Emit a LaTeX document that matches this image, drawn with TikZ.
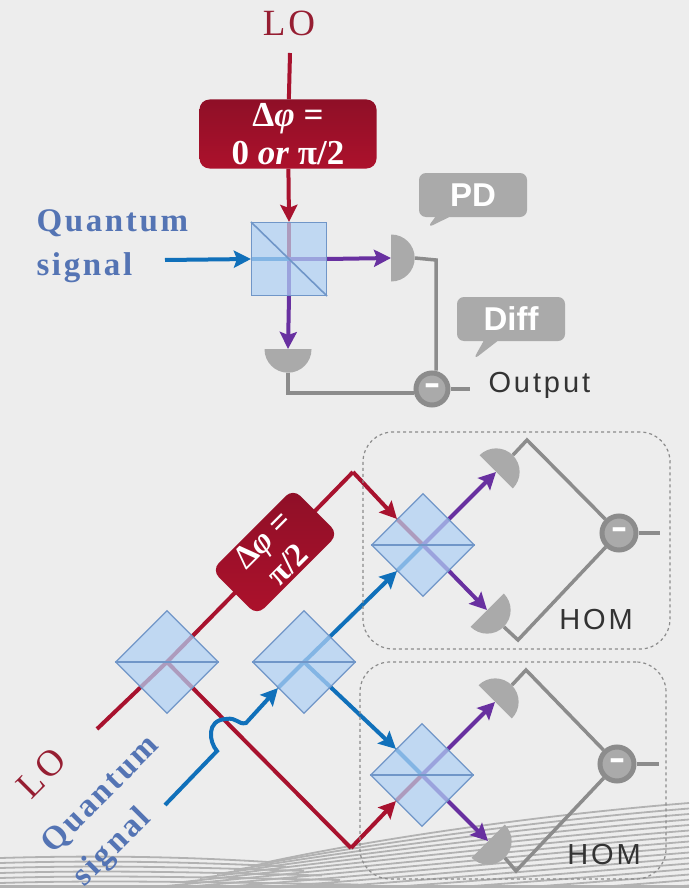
\documentclass[tikz,border=0pt]{standalone}
\usepackage{fontspec}
\usepackage{tikz}
\usetikzlibrary{arrows.meta, shapes.geometric, shapes.callouts}
\setmainfont{Liberation Serif}
\newfontfamily\sansfont{Liberation Sans}
\newfontfamily\spacedsans[LetterSpace=10]{Liberation Sans}
\newfontfamily\widefont[LetterSpace=8]{Liberation Serif}
\newfontfamily\minusfont{DejaVu Sans}

\definecolor{bgcol}{RGB}{237,237,237}
\definecolor{wavecol}{RGB}{178,178,178}
\definecolor{lored}{RGB}{168,18,46}
\definecolor{sigblue}{RGB}{16,112,186}
\definecolor{outpurple}{RGB}{104,48,160}
\definecolor{pdgray}{RGB}{170,170,170}
\definecolor{linegray}{RGB}{140,140,140}
\definecolor{cubefill}{RGB}{176,208,245}
\definecolor{cubeedge}{RGB}{112,150,200}
\definecolor{textblue}{RGB}{84,116,180}
\definecolor{textred}{RGB}{150,30,50}

\pgfdeclarelayer{waves}
\pgfdeclarelayer{beams}
\pgfsetlayers{waves,beams,main}

\tikzset{
    beam/.style={line width=4pt},
    tip/.style={-{Stealth[length=17pt,width=17pt,inset=3pt]}},
    cube/.style={draw=cubeedge, fill=cubefill, fill opacity=0.72, line width=1.2pt, inner sep=0pt},
    cubed/.style={cube, diamond, aspect=1, minimum size=103pt},
    phase/.style={rectangle, rounded corners=10pt, top color=lored!85!black, bottom color=lored!95!red,
        text=white, align=center, inner sep=0pt},
    pd/.style={semicircle, fill=pdgray, minimum width=47pt, minimum height=23.5pt, inner sep=0pt, anchor=chord center},
    wire/.style={draw=linegray, line width=3.5pt, line join=miter},
    diffc/.style={circle, draw=linegray, fill=pdgray, line width=5pt, minimum size=32pt, inner sep=0pt,
        text=white, font=\minusfont\bfseries\fontsize{32}{32}\selectfont},
    tag/.style={rectangle callout, rounded corners=7pt, fill=pdgray, text=white, minimum width=108pt,
        minimum height=44pt, callout pointer width=14pt, font=\sansfont\bfseries\fontsize{33}{33}\selectfont},
    hombox/.style={rectangle, rounded corners=30pt, draw=linegray, dashed, line width=1.2pt, inner sep=0pt},
    sanstext/.style={font=\spacedsans\fontsize{29}{29}\selectfont, text=black!80},
    sigtext/.style={text=textblue, font=\widefont\bfseries\fontsize{33}{44}\selectfont},
    lotext/.style={text=textred, font=\widefont\fontsize{37}{37}\selectfont}
}

\begin{document}
\begin{tikzpicture}[x=1pt, y=-1pt]
    \useasboundingbox (0,0) rectangle (689,888);

    % Background stripes
    \begin{pgfonlayer}{waves}
        \fill[bgcol] (0,0) rectangle (689,888);
        \foreach \i in {0,...,5}
            \draw[wavecol, line width=1.8pt] (0,858+5*\i) .. controls (100,855+5*\i) and (190,857+5*\i) .. (268+18*\i,862+4.5*\i);
        \foreach \i in {0,...,15}
            \draw[wavecol, line width=1.8pt] (268-17*\i,862+4*\i) .. controls (380-10*\i,838+5.5*\i) and (540,815+5.5*\i) .. (689,803+5.5*\i);
        \fill[wavecol] (0,885) rectangle (689,888);
    \end{pgfonlayer}

    % Homodyne detection
    \node[lotext] (loTopText) at (289,23) {LO};
    \node[sigtext, align=left, anchor=west] (sigTopText) at (33,246) {Quantum\\signal};
    \node[phase, minimum width=177pt, minimum height=69pt, font=\fontsize{35}{38}\selectfont\bfseries] (phaseTop) at (288,134) {Δ\textit{φ} =\\0 \textit{or} π/2};
    \node[cube, rectangle, minimum width=75pt, minimum height=73pt] (cubeTop) at (289,259) {};
    \draw[cubeedge, line width=1.6pt] (cubeTop.north west) -- (cubeTop.south east);
    \node[pd, rotate=-90] (pdRight) at (391,258) {};
    \node[pd, rotate=180] (pdDown) at (288,349) {};
    \node[diffc] (diffTop) at (432,389) {–};
    \node[sanstext, anchor=west] (outText) at (485,385) {Output};
    \node[tag, callout absolute pointer={(427,228)}] (pdTag) at (473,195) {PD};
    \node[tag, callout absolute pointer={(473,360)}] (diffTag) at (511,319) {Diff};
    \coordinate (loStart) at (290,53);
    \coordinate (sigStart) at (165,260);
    \coordinate (outEnd) at (470,389);
    \coordinate (wireA) at (436,260);
    \coordinate (wireB) at (288,393);
    \begin{pgfonlayer}{beams}
        \draw[beam, lored] (loStart) -- (phaseTop);
        \draw[beam, lored, tip] (phaseTop) -- (cubeTop.north);
        \draw[beam, lored] (cubeTop.north) -- (cubeTop.center);
        \draw[beam, outpurple] (cubeTop.center) -- (cubeTop.south);
        \draw[beam, sigblue, tip] (sigStart) -- (cubeTop.west);
        \draw[beam, sigblue] (cubeTop.west) -- (cubeTop.center);
        \draw[beam, outpurple] (cubeTop.center) -- (cubeTop.east);
        \draw[beam, outpurple, tip] (cubeTop.east) -- (pdRight.chord center);
        \draw[beam, outpurple, tip] (cubeTop.south) -- (pdDown.chord center);
        \draw[wire] (pdRight.apex) -- (wireA) -- (diffTop.north -| wireA);
        \draw[wire] (pdDown.apex) -- (wireB) -- (wireB -| diffTop.west);
        \draw[wire] (diffTop) -- (outEnd);
    \end{pgfonlayer}

    % Heterodyne detection
    \node[lotext, rotate=45] (loText) at (41,773) {LO};
    \node[sigtext, rotate=45] (quantText) at (101,795) {Quantum};
    \node[sigtext, rotate=45] (signalText) at (113,848) {signal};
    \node[cubed] (splitL) at (167,662) {};
    \node[cubed] (splitS) at (304,662) {};
    \node[cubed] (mixA) at (423,545) {};
    \node[cubed] (mixB) at (422,775) {};
    \foreach \c in {splitL,splitS,mixA,mixB}
        \draw[cubeedge, line width=1.6pt] (\c.west) -- (\c.east);
    \node[phase, rotate=45, minimum width=115pt, minimum height=64pt, font=\fontsize{33}{35}\selectfont\bfseries] (phaseB) at (275,552) {Δ\textit{φ} =\\π/2};
    \node[pd, rotate=-45] (pdAa) at (496,472) {};
    \node[pd, rotate=-135] (pdAb) at (487,610) {};
    \node[pd, rotate=-45] (pdBa) at (495,702) {};
    \node[pd, rotate=-135] (pdBb) at (488,841) {};
    \node[diffc, minimum size=34pt] (diffA) at (619,533) {–};
    \node[diffc, minimum size=34pt] (diffB) at (617,764) {–};
    \node[hombox, minimum width=307pt, minimum height=217pt] (homBoxA) at (516.5,540.5) {};
    \node[hombox, minimum width=306pt, minimum height=217pt] (homBoxB) at (513,770.5) {};
    \node[sanstext] (homA) at (596,620) {HOM};
    \node[sanstext] (homB) at (604,855) {HOM};
    \coordinate (loIn) at (97,729);
    \coordinate (loUp) at (353,472);
    \coordinate (loDown) at (351,848);
    \coordinate (sigIn) at (165,805);
    \coordinate (bumpA) at (217,751);
    \coordinate (bumpB) at (226,719);
    \coordinate (bumpC) at (246,723);
    \coordinate (cornAa) at (527,440);
    \coordinate (cornAb) at (518,640);
    \coordinate (cornBa) at (526,670);
    \coordinate (cornBb) at (516,871);
    \coordinate (endA) at (660,533);
    \coordinate (endB) at (659,764);
    \begin{pgfonlayer}{beams}
        \draw[beam, lored, line join=miter] (loIn) -- (splitL.center) -- (phaseB.center) -- (loUp);
        \draw[beam, lored, tip] (loUp) -- (mixA.north west);
        \draw[beam, lored] (mixA.north west) -- (mixA.center);
        \draw[beam, lored, line join=miter] (splitL.center) -- (loDown);
        \draw[beam, lored, tip] (loDown) -- (mixB.south west);
        \draw[beam, lored] (mixB.south west) -- (mixB.center);
        \draw[beam, sigblue, tip] (sigIn) -- (bumpA) .. controls (209,742) and (206,720) .. (bumpB)
            .. controls (237,717) and (238,725) .. (bumpC) -- (splitS.south west);
        \draw[beam, sigblue] (splitS.south west) -- (splitS.center);
        \draw[beam, sigblue, tip] (splitS.center) -- (mixA.south west);
        \draw[beam, sigblue] (mixA.south west) -- (mixA.center);
        \draw[beam, sigblue, tip] (splitS.center) -- (mixB.north west);
        \draw[beam, sigblue] (mixB.north west) -- (mixB.center);
        \foreach \m/\p/\q in {mixA/pdAa/pdAb, mixB/pdBa/pdBb} {
            \draw[beam, outpurple] (\m.center) -- (\m.north east);
            \draw[beam, outpurple] (\m.center) -- (\m.south east);
            \draw[beam, outpurple, tip] (\m.north east) -- (\p.chord center);
            \draw[beam, outpurple, tip] (\m.south east) -- (\q.chord center);
        }
        \draw[wire] (pdAa.apex) -- (cornAa) -- (diffA);
        \draw[wire] (pdAb.apex) -- (cornAb) -- (diffA);
        \draw[wire] (diffA) -- (endA);
        \draw[wire] (pdBa.apex) -- (cornBa) -- (diffB);
        \draw[wire] (pdBb.apex) -- (cornBb) -- (diffB);
        \draw[wire] (diffB) -- (endB);
    \end{pgfonlayer}
\end{tikzpicture}
\end{document}
